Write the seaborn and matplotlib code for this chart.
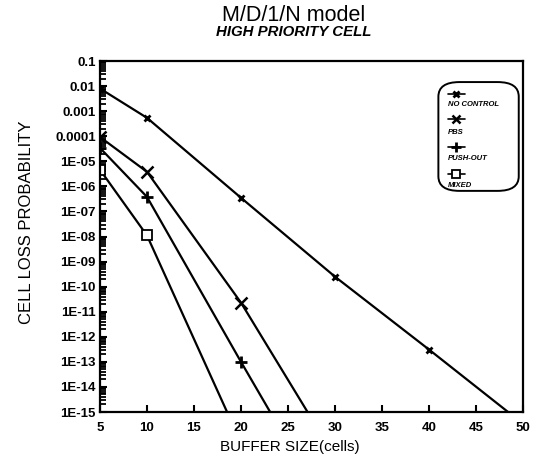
import numpy as np
import pandas as pd
import seaborn as sns
import matplotlib.pyplot as plt
from matplotlib.lines import Line2D
from matplotlib.patches import FancyBboxPatch
from matplotlib.ticker import FuncFormatter, LogLocator

# values (cell loss probability per buffer size)
no_control_x = [5, 10, 20, 30, 40, 50]
no_control_y = [8e-3, 5.4e-4, 3.5e-7, 2.5e-10, 3.1e-13, 3.4e-16]

pbs_x = [5, 10, 20, 30]
pbs_y = [9.3e-5, 3.8e-6, 2.3e-11, 1.6e-17]

push_out_x = [5, 10, 20, 25]
push_out_y = [3.4e-5, 3.8e-7, 1.0e-13, 6e-17]

mixed_x = [5, 10, 20]
mixed_y = [4.6e-6, 1.1e-8, 6e-17]

labels = ["NO CONTROL", "PBS", "PUSH-OUT", "MIXED"]
x_ticks = [5, 10, 15, 20, 25, 30, 35, 40, 45, 50]

sns.set_style("ticks")
plt.rcParams["font.family"] = ["Liberation Sans", "DejaVu Sans"]
plt.rcParams["text.color"] = "black"
plt.rcParams["axes.labelcolor"] = "black"
plt.rcParams["xtick.color"] = "black"
plt.rcParams["ytick.color"] = "black"

fig = plt.figure(figsize=(5.42, 4.58), dpi=100)
ax = fig.add_axes([0.1845, 0.1004, 0.7804, 0.7664])

series = [
    (no_control_x, no_control_y, dict(marker="x", markersize=5, markeredgewidth=2)),
    (pbs_x, pbs_y, dict(marker="x", markersize=8, markeredgewidth=1.8)),
    (push_out_x, push_out_y, dict(marker="+", markersize=9, markeredgewidth=2)),
    (mixed_x, mixed_y, dict(marker="s", markersize=7, markerfacecolor="white",
                            markeredgewidth=1.3)),
]
for (xs, ys, mk), lab in zip(series, labels):
    df = pd.DataFrame({"x": xs, "y": ys})
    sns.lineplot(data=df, x="x", y="y", ax=ax, color="black", linewidth=1.6,
                 markeredgecolor="black", legend=False, **mk)

ax.set_yscale("log")
ax.set_ylim(1e-15, 0.1)
ax.set_xlim(5, 50)
ax.set_xticks(x_ticks)

def fmt(v, pos):
    e = int(round(np.log10(v)))
    if e >= 0:
        return "%g" % v
    if e >= -4:
        return ("%." + str(-e) + "f") % v
    return "1E-%02d" % (-e)

ax.yaxis.set_major_locator(LogLocator(base=10, numticks=20))
ax.yaxis.set_minor_locator(LogLocator(base=10, subs=np.arange(2, 10), numticks=200))
ax.yaxis.set_major_formatter(FuncFormatter(fmt))

ax.tick_params(axis="both", which="major", direction="in", length=5, width=1.5,
               labelsize=9.5, colors="black")
ax.tick_params(axis="x", which="major", pad=7)
ax.tick_params(axis="y", which="major", pad=3)
ax.tick_params(axis="y", which="minor", direction="in", length=4, width=1.3,
               colors="black")
for t in ax.get_xticklabels() + ax.get_yticklabels():
    t.set_fontweight("bold")
for sp in ax.spines.values():
    sp.set_linewidth(1.6)
    sp.set_color("black")

ax.set_xlabel("BUFFER SIZE(cells)", fontsize=11, ha="center", va="center")
ax.set_ylabel("CELL LOSS PROBABILITY", fontsize=12, ha="center", va="center")
ax.xaxis.set_label_coords(0.449, -0.10)
ax.yaxis.set_label_coords(-0.173, 0.541)

fig.text(0.541, 0.967, "M/D/1/N model", ha="center", va="center", fontsize=15.5)
fig.text(0.541, 0.93, "HIGH PRIORITY CELL", ha="center", va="center",
         fontsize=10.8, fontstyle="italic", fontweight="bold")

# legend box with the symbol above each label
box = FancyBboxPatch((0.80, 0.63), 0.19, 0.31, transform=ax.transAxes,
                     boxstyle="round,pad=0,rounding_size=0.05",
                     facecolor="white", edgecolor="black", linewidth=1.4,
                     mutation_aspect=351 / 423)
ax.add_patch(box)
handle_y = [0.906, 0.835, 0.755, 0.678]
text_y = [0.877, 0.795, 0.721, 0.644]
for (xs, ys, mk), lab, hy, ty in zip(series, labels, handle_y, text_y):
    mk2 = dict(mk)
    mk2["markersize"] = mk2["markersize"] * 0.8
    ax.add_line(Line2D([0.822, 0.862], [hy, hy], transform=ax.transAxes,
                       color="black", linewidth=1.2))
    ax.add_line(Line2D([0.842], [hy], transform=ax.transAxes, color="black",
                       linestyle="none", markeredgecolor="black", **mk2))
    ax.text(0.822, ty, lab, transform=ax.transAxes, fontsize=5.5,
            fontstyle="italic", fontweight="bold", va="center", ha="left")

fig.savefig("out.png", dpi=100)
